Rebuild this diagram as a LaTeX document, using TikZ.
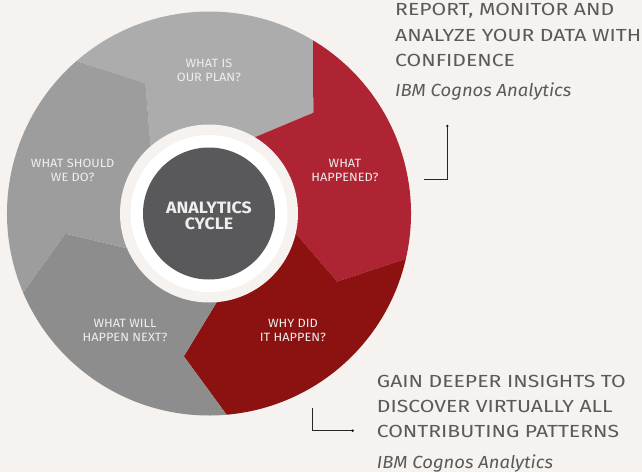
\documentclass[tikz,border=0pt]{standalone}
\usepackage{fontspec}
\setmainfont{Fira Sans}
\newfontfamily\notefont[FakeStretch=1.21]{Fira Sans}
\newfontfamily\noteitfont[FakeStretch=1.055]{Fira Sans}
\newfontfamily\segfont[FakeStretch=1.065]{Fira Sans}
\newfontfamily\hubfont[FakeStretch=1.075]{Fira Sans}
\definecolor{bgbeige}{HTML}{F5F2EF}
\definecolor{planGray}{HTML}{ACACAC}
\definecolor{doGray}{HTML}{9D9D9D}
\definecolor{nextGray}{HTML}{8D8D8D}
\definecolor{happRed}{HTML}{AE2432}
\definecolor{whyRed}{HTML}{8B1211}
\definecolor{hubGray}{HTML}{59595B}
\definecolor{noteGray}{HTML}{5A5A5A}
\definecolor{labelWhite}{HTML}{EEEEEE}
\begin{document}
\begin{tikzpicture}[x=1pt,y=1pt,
  seglabel/.style={align=center,text=labelWhite,font=\segfont\fontsize{12}{14}\selectfont},
  hublabel/.style={align=center,text=labelWhite,font=\hubfont\fontsize{16.5}{16.5}\selectfont\bfseries},
  noteline/.style={anchor=base west,inner sep=0pt,text=noteGray,font=\notefont\fontsize{17.5}{20}\selectfont},
  noteital/.style={noteline,font=\noteitfont\fontsize{17.5}{20}\selectfont\itshape},
  leader/.style={line width=0.8pt,black!85}]
\fill[bgbeige] (-209,-258.5) rectangle (433,213.5);
\useasboundingbox (-209,-258.5) rectangle (433,213.5);
% the five arrow segments
\fill[planGray] (131:202pt) arc[start angle=131,end angle=59,radius=202pt] -- (44:145pt) -- (59:89pt) -- (0,0) -- (131:89pt) -- (116:145pt) -- cycle;
\fill[happRed] (59:202pt) arc[start angle=59,end angle=-13,radius=202pt] -- (-28:145pt) -- (-13:89pt) -- (0,0) -- (59:89pt) -- (44:145pt) -- cycle;
\fill[whyRed] (-13:202pt) arc[start angle=-13,end angle=-85,radius=202pt] -- (-100:145pt) -- (-85:89pt) -- (0,0) -- (-13:89pt) -- (-28:145pt) -- cycle;
\fill[nextGray] (-85:202pt) arc[start angle=-85,end angle=-157,radius=202pt] -- (-172:145pt) -- (-157:89pt) -- (0,0) -- (-85:89pt) -- (-100:145pt) -- cycle;
\fill[doGray] (203:202pt) arc[start angle=203,end angle=131,radius=202pt] -- (116:145pt) -- (131:89pt) -- (0,0) -- (203:89pt) -- (188:145pt) -- cycle;
% hub
\fill[bgbeige] (0,0) circle[radius=89pt];
\fill[white] (0,0) circle[radius=78.5pt];
\fill[hubGray] (0,0) circle[radius=66pt];
\node[hublabel] (hub) at (0,-2.5) {ANALYTICS\\CYCLE};
% segment labels
\node[seglabel] (plan) at (0,143.5) {WHAT IS\\OUR PLAN?};
\node[seglabel] (happened) at (136,43.5) {WHAT\\HAPPENED?};
\node[seglabel] (why) at (84,-116.5) {WHY DID\\IT HAPPEN?};
\node[seglabel] (next) at (-84,-116.5) {WHAT WILL\\HAPPEN NEXT?};
\node[seglabel] (should) at (-136.3,43.5) {WHAT SHOULD\\WE DO?};
% notes
\node[noteline] (reportA) at (186,197.5) {REPORT, MONITOR AND};
\node[noteline] (reportB) at (186,172.5) {ANALYZE YOUR DATA WITH};
\node[noteline] (reportC) at (186,147.5) {CONFIDENCE};
\node[noteital] (reportD) at (186,116.8) {IBM Cognos Analytics};
\node[noteline] (gainA) at (167.7,-174.2) {GAIN DEEPER INSIGHTS TO};
\node[noteline] (gainB) at (167.7,-199.2) {DISCOVER VIRTUALLY ALL};
\node[noteline] (gainC) at (167.7,-224.2) {CONTRIBUTING PATTERNS};
\node[noteital] (gainD) at (167.7,-254.8) {IBM Cognos Analytics};
% leader lines
\coordinate (topStart) at (215,34.5);
\coordinate (topBend) at (238.3,34.5);
\coordinate (topEnd) at (238.3,87.5);
\draw[leader] (topStart) -- (topBend) -- (topEnd);
\fill[black] (topEnd) circle[radius=1.3pt];
\coordinate (botStart) at (103.3,-194.8);
\coordinate (botBend) at (103.3,-217.2);
\coordinate (botEnd) at (143.7,-217.2);
\draw[leader] (botStart) -- (botBend) -- (botEnd);
\fill[black] (botEnd) circle[radius=1.3pt];
\end{tikzpicture}
\end{document}
